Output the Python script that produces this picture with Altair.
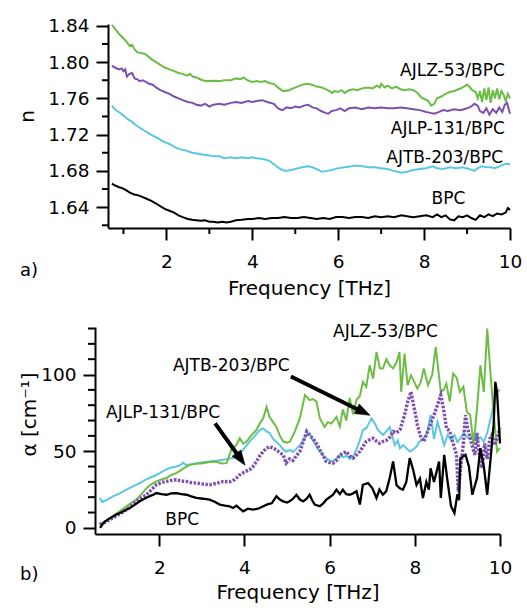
import altair as alt
import pandas as pd

# ---------------- panel a) refractive index n ----------------
a_green_f = [0.73,0.80,0.90,1.00,1.08,1.14,1.20,1.26,1.32,1.40,1.50,1.58,1.66,1.76,1.86,1.96,2.07,2.18,2.28,2.38,2.48,2.55,2.61,2.70,2.84,2.95,3.10,3.23,3.35,3.50,3.62,3.72,3.80,3.88,4.00,4.10,4.20,4.30,4.39,4.50,4.62,4.72,4.85,4.95,5.05,5.16,5.28,5.39,5.50,5.62,5.72,5.80,5.85,5.92,6.00,6.08,6.15,6.25,6.35,6.45,6.55,6.70,6.80,6.90,6.97,7.00,7.08,7.15,7.25,7.35,7.45,7.55,7.65,7.75,7.85,7.93,8.02,8.10,8.16,8.24,8.30,8.40,8.50,8.60,8.70,8.80,8.90,9.00,9.05,9.12,9.20,9.25,9.30,9.35,9.40,9.45,9.50,9.55,9.60,9.65,9.70,9.75,9.80,9.85,9.90,9.95,10.0]
a_green_n = [1.841,1.837,1.831,1.826,1.822,1.818,1.819,1.814,1.811,1.810,1.809,1.806,1.803,1.800,1.797,1.794,1.792,1.790,1.788,1.787,1.785,1.787,1.784,1.783,1.780,1.779,1.7795,1.779,1.780,1.780,1.782,1.781,1.783,1.780,1.778,1.779,1.778,1.779,1.777,1.776,1.771,1.768,1.769,1.771,1.773,1.775,1.776,1.775,1.773,1.772,1.770,1.768,1.766,1.768,1.767,1.769,1.766,1.769,1.770,1.769,1.771,1.772,1.771,1.774,1.772,1.776,1.772,1.774,1.771,1.773,1.770,1.769,1.770,1.769,1.766,1.761,1.759,1.757,1.752,1.754,1.760,1.762,1.765,1.767,1.768,1.770,1.772,1.775,1.773,1.769,1.767,1.760,1.768,1.756,1.771,1.758,1.772,1.755,1.769,1.760,1.771,1.759,1.768,1.764,1.757,1.765,1.760]

a_purple_f = [0.73,0.80,0.89,0.96,1.00,1.04,1.08,1.14,1.20,1.26,1.32,1.38,1.45,1.53,1.60,1.68,1.76,1.86,1.96,2.07,2.18,2.28,2.38,2.50,2.61,2.70,2.80,2.90,3.00,3.10,3.23,3.35,3.50,3.62,3.75,3.90,4.00,4.10,4.23,4.35,4.50,4.60,4.70,4.80,4.90,5.00,5.10,5.20,5.30,5.40,5.50,5.60,5.70,5.77,5.85,5.95,6.05,6.15,6.25,6.40,6.55,6.70,6.85,7.00,7.15,7.30,7.45,7.60,7.75,7.90,8.05,8.15,8.24,8.35,8.45,8.55,8.70,8.85,9.00,9.10,9.17,9.25,9.30,9.38,9.45,9.52,9.60,9.68,9.75,9.82,9.88,9.93,10.0]
a_purple_n = [1.796,1.794,1.792,1.793,1.790,1.792,1.784,1.787,1.788,1.782,1.781,1.779,1.780,1.778,1.776,1.775,1.772,1.769,1.767,1.765,1.762,1.760,1.758,1.756,1.755,1.753,1.752,1.754,1.751,1.753,1.754,1.753,1.755,1.756,1.755,1.757,1.756,1.757,1.758,1.756,1.754,1.749,1.747,1.750,1.749,1.751,1.750,1.752,1.753,1.750,1.749,1.746,1.744,1.743,1.746,1.747,1.749,1.746,1.749,1.750,1.748,1.750,1.749,1.750,1.749,1.749,1.750,1.749,1.748,1.747,1.745,1.744,1.743,1.745,1.747,1.746,1.748,1.747,1.749,1.751,1.754,1.752,1.746,1.744,1.749,1.742,1.748,1.744,1.750,1.745,1.753,1.755,1.743]

a_cyan_f = [0.73,0.80,0.89,1.00,1.10,1.20,1.30,1.40,1.50,1.60,1.68,1.80,1.90,2.00,2.10,2.20,2.30,2.45,2.60,2.75,2.84,3.00,3.10,3.23,3.35,3.50,3.62,3.75,3.90,4.00,4.10,4.25,4.40,4.54,4.65,4.77,4.90,5.00,5.16,5.30,5.40,5.50,5.62,5.75,5.85,6.00,6.15,6.30,6.41,6.55,6.70,6.85,7.00,7.15,7.30,7.47,7.60,7.75,7.90,8.05,8.20,8.30,8.45,8.60,8.75,8.90,9.05,9.17,9.25,9.35,9.45,9.55,9.65,9.75,9.85,9.95,10.0]
a_cyan_n = [1.752,1.748,1.745,1.741,1.737,1.734,1.730,1.727,1.724,1.721,1.719,1.716,1.713,1.711,1.709,1.706,1.704,1.7025,1.700,1.699,1.698,1.697,1.696,1.696,1.694,1.695,1.694,1.695,1.694,1.695,1.694,1.693,1.691,1.686,1.682,1.680,1.681,1.682,1.684,1.685,1.684,1.682,1.679,1.680,1.681,1.683,1.684,1.685,1.686,1.685,1.684,1.684,1.683,1.682,1.680,1.678,1.679,1.681,1.682,1.683,1.685,1.683,1.682,1.684,1.683,1.684,1.682,1.680,1.683,1.685,1.684,1.684,1.683,1.685,1.687,1.688,1.687]

a_black_f = [0.73,0.80,0.90,0.97,1.05,1.15,1.25,1.35,1.45,1.55,1.65,1.76,1.86,1.96,2.07,2.18,2.28,2.38,2.50,2.60,2.69,2.80,2.90,3.00,3.08,3.20,3.30,3.40,3.50,3.62,3.75,3.90,4.00,4.15,4.30,4.45,4.60,4.75,4.90,5.05,5.20,5.35,5.50,5.65,5.80,5.95,6.10,6.25,6.40,6.55,6.70,6.85,7.00,7.15,7.30,7.47,7.60,7.75,7.90,8.05,8.20,8.30,8.40,8.50,8.60,8.70,8.80,8.90,9.00,9.10,9.20,9.30,9.40,9.50,9.60,9.70,9.80,9.90,9.95,10.0]
a_black_n = [1.666,1.664,1.662,1.661,1.659,1.656,1.654,1.653,1.651,1.649,1.647,1.644,1.641,1.638,1.636,1.634,1.631,1.629,1.627,1.626,1.6255,1.625,1.6255,1.624,1.624,1.623,1.624,1.623,1.624,1.6255,1.626,1.627,1.627,1.628,1.627,1.628,1.628,1.629,1.628,1.628,1.629,1.628,1.627,1.628,1.627,1.629,1.629,1.628,1.629,1.629,1.628,1.630,1.629,1.630,1.629,1.631,1.630,1.629,1.630,1.631,1.629,1.632,1.629,1.631,1.6265,1.6255,1.630,1.629,1.631,1.628,1.626,1.631,1.629,1.632,1.630,1.633,1.632,1.634,1.639,1.637]

# ---------------- panel b) absorption alpha ----------------
b_green_f = [0.60,0.75,0.91,1.05,1.23,1.35,1.46,1.58,1.70,1.82,1.93,2.05,2.17,2.28,2.40,2.55,2.71,2.87,3.03,3.18,3.34,3.45,3.58,3.69,3.81,3.89,3.97,4.05,4.15,4.28,4.36,4.44,4.52,4.59,4.67,4.75,4.83,4.91,5.00,5.07,5.18,5.30,5.42,5.53,5.61,5.69,5.77,5.88,5.96,6.04,6.16,6.24,6.31,6.39,6.47,6.55,6.63,6.71,6.78,6.86,6.94,7.02,7.10,7.18,7.25,7.33,7.41,7.49,7.57,7.64,7.68,7.76,7.83,7.91,8.06,8.14,8.21,8.31,8.41,8.49,8.61,8.68,8.74,8.82,8.90,8.98,9.06,9.14,9.22,9.30,9.38,9.46,9.54,9.62,9.70,9.78,9.85,9.93,10.0]
b_green_a = [2.2,4.5,7.6,10.5,14.1,16.5,18.4,22.0,25.9,28.5,30.3,31.5,32.5,34.5,35.7,38.5,41.1,41.8,42.2,43.0,43.3,42.0,42.2,50.9,54.1,58.4,55.0,56.3,60.0,63.8,68.0,71.4,78.8,72.3,69.0,65.8,60.0,56.3,55.5,56.3,62.8,71.4,86.6,83.3,84.0,82.3,71.4,65.8,69.0,68.0,72.3,66.0,77.2,70.0,84.8,74.0,83.5,86.0,95.2,92.0,106.0,97.4,114.7,104.0,103.9,110.0,106.0,104.0,108.0,114.7,88.7,113.6,93.0,99.5,90.9,95.0,104.0,93.0,100.0,118.0,88.7,90.0,94.0,82.3,100.6,98.0,88.7,92.0,75.8,73.6,54.0,77.9,106.0,88.7,130.0,99.5,75.0,49.8,52.0]

b_cyan_f = [0.60,0.66,0.75,0.91,1.07,1.23,1.38,1.54,1.65,1.77,1.89,2.01,2.12,2.24,2.40,2.50,2.56,2.62,2.75,2.87,3.03,3.18,3.34,3.50,3.62,3.73,3.81,3.89,4.00,4.12,4.24,4.36,4.44,4.52,4.59,4.67,4.75,4.83,4.91,4.98,5.06,5.14,5.22,5.30,5.38,5.46,5.53,5.59,5.65,5.71,5.77,5.85,5.92,6.00,6.08,6.16,6.24,6.32,6.39,6.47,6.55,6.61,6.67,6.73,6.78,6.86,6.90,6.98,7.06,7.13,7.17,7.25,7.33,7.41,7.47,7.53,7.60,7.65,7.73,7.80,7.88,7.96,8.04,8.10,8.21,8.29,8.37,8.45,8.53,8.61,8.69,8.77,8.85,8.93,9.00,9.07,9.15,9.22,9.30,9.38,9.46,9.54,9.62,9.70,9.78,9.85,9.93,10.0]
b_cyan_a = [19.5,16.9,18.0,20.6,22.5,24.9,27.0,29.2,31.0,32.5,34.0,35.7,37.5,39.0,40.0,41.0,42.5,41.0,41.5,42.2,42.8,43.3,43.8,44.4,45.0,45.5,47.0,48.7,52.0,56.3,60.0,63.8,64.9,62.8,62.0,58.0,56.0,54.0,51.0,49.8,50.9,49.5,51.5,54.0,57.0,60.6,61.7,58.0,55.2,52.0,49.8,47.0,45.5,44.0,43.3,45.5,47.6,46.0,47.0,45.0,46.5,50.0,54.0,59.0,63.8,65.0,67.0,71.4,68.0,64.0,62.8,60.6,63.0,65.8,60.0,54.0,57.0,51.9,54.0,52.0,49.8,51.0,53.0,56.0,58.4,62.0,73.6,58.0,69.0,62.0,54.0,60.6,57.0,60.6,56.0,58.4,62.0,59.0,58.4,61.0,57.0,59.0,56.3,62.0,71.4,80.0,88.7,90.0]

b_black_f = [0.61,0.67,0.73,0.85,0.99,1.10,1.20,1.31,1.42,1.54,1.65,1.77,1.85,1.93,2.05,2.17,2.28,2.40,2.52,2.64,2.75,2.87,3.03,3.18,3.30,3.42,3.54,3.65,3.73,3.81,3.89,3.97,4.08,4.20,4.32,4.44,4.55,4.64,4.75,4.83,4.91,5.00,5.06,5.14,5.22,5.30,5.38,5.46,5.53,5.59,5.65,5.77,5.85,5.92,6.00,6.08,6.16,6.24,6.31,6.39,6.47,6.55,6.63,6.71,6.78,6.90,7.00,7.10,7.17,7.25,7.33,7.41,7.49,7.57,7.64,7.72,7.80,7.88,7.96,8.04,8.12,8.19,8.27,8.33,8.37,8.45,8.57,8.61,8.69,8.77,8.85,8.93,9.00,9.04,9.07,9.19,9.27,9.35,9.46,9.54,9.62,9.70,9.78,9.85,9.89,9.93,10.0]
b_black_a = [0.0,2.5,4.3,6.5,8.7,10.0,11.5,13.0,15.0,17.3,19.0,20.6,21.5,22.7,22.0,21.6,22.5,22.7,22.0,21.6,20.5,19.5,19.0,18.4,17.0,15.2,14.5,14.1,13.0,14.5,12.5,10.8,12.5,11.9,12.5,14.1,15.5,16.0,20.6,18.4,17.3,16.5,17.3,19.0,21.6,18.5,17.3,19.0,21.6,18.0,15.2,14.1,16.0,18.4,20.0,21.6,24.9,22.0,24.9,22.0,21.6,22.5,23.8,15.2,28.1,29.2,26.0,19.5,25.0,21.6,24.0,32.5,43.3,28.0,26.0,24.9,30.0,45.5,38.0,28.0,32.0,19.5,30.0,24.9,38.9,30.0,43.3,19.5,47.6,30.0,14.1,9.7,22.0,18.0,45.5,47.6,40.0,21.6,32.5,52.0,40.0,21.6,45.5,67.0,95.2,88.7,55.0]

b_purple_f = [0.60,0.75,0.91,1.07,1.23,1.35,1.46,1.58,1.70,1.82,1.93,2.05,2.17,2.28,2.40,2.52,2.64,2.75,2.87,3.03,3.18,3.34,3.50,3.65,3.77,3.89,4.00,4.12,4.20,4.28,4.36,4.44,4.52,4.59,4.67,4.75,4.83,4.91,4.98,5.06,5.14,5.22,5.30,5.38,5.46,5.53,5.61,5.69,5.77,5.85,5.92,6.00,6.08,6.16,6.24,6.31,6.39,6.47,6.55,6.63,6.71,6.78,6.86,6.94,7.02,7.10,7.17,7.25,7.33,7.41,7.49,7.57,7.65,7.72,7.76,7.83,7.91,7.97,8.03,8.06,8.13,8.21,8.29,8.37,8.45,8.53,8.61,8.69,8.74,8.82,8.90,8.98,9.02,9.08,9.14,9.19,9.24,9.30,9.36,9.41,9.46,9.50,9.58,9.64,9.70,9.76,9.81,9.87,9.93,10.0]
b_purple_a = [2.2,4.0,6.5,9.0,11.9,14.5,17.3,19.5,21.6,25.0,28.1,29.5,30.3,31.0,31.4,30.5,30.3,29.5,29.2,28.5,28.1,29.0,30.3,30.0,31.5,34.6,36.5,37.9,40.0,43.3,47.0,49.8,52.0,53.0,52.0,50.9,49.0,47.6,42.2,45.0,44.0,47.0,49.8,56.0,62.8,60.0,58.4,55.0,50.9,47.0,43.3,42.5,42.2,44.0,47.6,48.5,49.8,47.0,45.5,47.5,49.8,53.0,56.3,57.5,58.4,56.5,55.2,56.3,57.0,59.0,62.8,62.0,63.8,70.0,73.6,82.0,88.7,80.0,72.0,67.0,60.0,56.3,62.0,68.0,73.6,80.0,86.6,75.0,65.0,63.0,55.0,47.6,23.8,40.0,55.0,73.6,65.0,58.4,52.0,47.6,62.0,50.0,39.0,55.0,45.0,58.0,60.6,54.0,58.4,65.0]

# ---------------- labels, ticks, arrows ----------------
series = ["AJLZ-53/BPC", "AJLP-131/BPC", "AJTB-203/BPC", "BPC"]
colors = ["#6cbd45", "#7c50ae", "#5bc7e0", "#000000"]

a_lab = ["AJLZ-53/BPC", "AJLP-131/BPC", "AJTB-203/BPC", "BPC"]
a_lab_f = [9.88, 9.88, 9.84, 8.96]
a_lab_n = [1.785, 1.721, 1.689, 1.644]

b_lab = ["AJLZ-53/BPC", "AJTB-203/BPC", "AJLP-131/BPC", "BPC"]
b_lab_f = [6.08, 2.32, 0.75, 2.14]
b_lab_a = [124.7, 102.6, 71.4, 2.0]

a_y_major = [1.64, 1.68, 1.72, 1.76, 1.80, 1.84]
a_y_minor = [1.62, 1.66, 1.70, 1.74, 1.78, 1.82]
a_x_major = [2, 4, 6, 8, 10]
a_x_minor = [1, 3, 5, 7, 9]
b_y_major = [0, 50, 100]
b_y_minor = [10, 20, 30, 40, 60, 70, 80, 90, 110, 120, 130]
b_x_major = [2, 4, 6, 8, 10]

arrow_f0 = [3.31, 5.09]
arrow_a0 = [68.2, 98.7]
arrow_f1 = [3.906, 6.78]
arrow_a1 = [45.1, 75.6]
tip_f = [4.014, 6.948]
tip_a = [40.9, 73.4]
tip_angle = [144.5, 116.3]

# ---------------- build tables ----------------
def frame(fs, vs, name):
    return pd.DataFrame({"f": fs, "v": vs, "s": name})

top_df = pd.concat([
    frame(a_black_f, a_black_n, "BPC"),
    frame(a_cyan_f, a_cyan_n, "AJTB-203/BPC"),
    frame(a_purple_f, a_purple_n, "AJLP-131/BPC"),
    frame(a_green_f, a_green_n, "AJLZ-53/BPC"),
])

FONT = "DejaVu Sans"
W_TOP, H_TOP = 415, 204
W_BOT, H_BOT = 405, 207
INSET = 13
LAB_FS = 17

color = alt.Color("s:N", scale=alt.Scale(domain=series, range=colors), legend=None)

# top scales / axes (same objects reused in every layer so the axes merge)
xs_top = alt.Scale(domain=[0.64, 10], range=[INSET, W_TOP], nice=False, zero=False)
ys_top = alt.Scale(domain=[1.617, 1.842], nice=False, zero=False)
xax_top = alt.Axis(values=a_x_major, tickSize=12, labelPadding=12.5, labelFlush=False,
                   title="Frequency [THz]", titlePadding=7)
yax_top = alt.Axis(values=a_y_major, format=".2f", tickSize=12, labelPadding=7, offset=-INSET,
                   title="n", titlePadding=10, titleY=92)

def XT(field):
    return alt.X(field, scale=xs_top, axis=xax_top, title="Frequency [THz]")

def YT(field):
    return alt.Y(field, scale=ys_top, axis=yax_top, title="n")

top_lines = alt.Chart(top_df).mark_line(strokeWidth=2).encode(x=XT("f:Q"), y=YT("v:Q"), color=color, detail="s:N")

top_ymin = alt.Chart(pd.DataFrame({"v": a_y_minor})).mark_rule(color="black", strokeWidth=2).encode(
    y=YT("v:Q"), x=alt.value(INSET - 6), x2=alt.value(INSET))
top_xmin = alt.Chart(pd.DataFrame({"f": a_x_minor})).mark_rule(color="black", strokeWidth=2).encode(
    x=XT("f:Q"), y=alt.value(H_TOP), y2=alt.value(H_TOP + 6))

top_text = alt.Chart(pd.DataFrame({"lab": a_lab, "f": a_lab_f, "v": a_lab_n})).mark_text(
    align="right", baseline="alphabetic", fontSize=LAB_FS, font=FONT, color="black").encode(
    x=XT("f:Q"), y=YT("v:Q"), text="lab:N")

top_tag = alt.Chart(pd.DataFrame({"lab": ["a)"]})).mark_text(
    align="left", baseline="alphabetic", fontSize=18, font=FONT, color="black").encode(
    x=alt.value(-75), y=alt.value(252), text="lab:N")

top = alt.layer(top_lines, top_ymin, top_xmin, top_text, top_tag).properties(width=W_TOP, height=H_TOP)

# bottom scales / axes
xs_bot = alt.Scale(domain=[0.49, 10], nice=False, zero=False)
ys_bot = alt.Scale(domain=[-4, 131], nice=False, zero=False)
xax_bot = alt.Axis(values=b_x_major, tickSize=12, labelPadding=12, labelFlush=False,
                   title="Frequency [THz]", titlePadding=6)
yax_bot = alt.Axis(values=b_y_major, tickSize=12, labelPadding=7,
                   title="α [cm⁻¹]", titlePadding=1, titleY=87)

def XB(field):
    return alt.X(field, scale=xs_bot, axis=xax_bot, title="Frequency [THz]")

def YB(field):
    return alt.Y(field, scale=ys_bot, axis=yax_bot, title="α [cm⁻¹]")

def bline(fs, vs, name, **kw):
    return alt.Chart(frame(fs, vs, name)).mark_line(**kw).encode(x=XB("f:Q"), y=YB("v:Q"), color=color)

b_green = bline(b_green_f, b_green_a, "AJLZ-53/BPC", strokeWidth=2)
b_cyan = bline(b_cyan_f, b_cyan_a, "AJTB-203/BPC", strokeWidth=2)
b_purple = bline(b_purple_f, b_purple_a, "AJLP-131/BPC", strokeWidth=3.4, strokeDash=[2.5, 1.5])
b_black = bline(b_black_f, b_black_a, "BPC", strokeWidth=2.3)

bot_ymin = alt.Chart(pd.DataFrame({"v": b_y_minor})).mark_rule(color="black", strokeWidth=2).encode(
    y=YB("v:Q"), x=alt.value(-7), x2=alt.value(0))

bot_text = alt.Chart(pd.DataFrame({"lab": b_lab, "f": b_lab_f, "v": b_lab_a})).mark_text(
    align="left", baseline="alphabetic", fontSize=LAB_FS, font=FONT, color="black").encode(
    x=XB("f:Q"), y=YB("v:Q"), text="lab:N")

arrows = pd.DataFrame({"f": arrow_f0, "v": arrow_a0, "f1": arrow_f1, "v1": arrow_a1})
bot_shaft = alt.Chart(arrows).mark_rule(color="black", strokeWidth=4).encode(
    x=XB("f:Q"), x2="f1:Q", y=YB("v:Q"), y2="v1:Q")
heads = pd.DataFrame({"f": tip_f, "v": tip_a, "ang": tip_angle})
bot_head = alt.Chart(heads).mark_point(shape="M0,0L-0.62,1.7L0.62,1.7Z", filled=True, fill="black",
                                       stroke="black", strokeWidth=0.5, opacity=1, size=300).encode(
    x=XB("f:Q"), y=YB("v:Q"), angle=alt.Angle("ang:Q", scale=None))

bot_tag = alt.Chart(pd.DataFrame({"lab": ["b)"]})).mark_text(
    align="left", baseline="alphabetic", fontSize=18, font=FONT, color="black").encode(
    x=alt.value(-75), y=alt.value(253), text="lab:N")

bottom = alt.layer(b_cyan, b_green, b_purple, b_black, bot_ymin, bot_text, bot_shaft, bot_head,
                   bot_tag).properties(width=W_BOT, height=H_BOT)

chart = alt.vconcat(top, bottom, spacing=24).properties(
    padding={"left": 17, "top": 16, "right": 5, "bottom": 2}
).configure(font=FONT).configure_view(stroke=None).configure_axis(
    grid=False, labelFont=FONT, titleFont=FONT, labelFontSize=18.5, titleFontSize=20,
    titleFontWeight="normal", labelColor="black", titleColor="black",
    domainColor="black", tickColor="black", domainWidth=2, tickWidth=2
)

chart.save("out.html", embed_options={"renderer": "svg", "actions": False})
